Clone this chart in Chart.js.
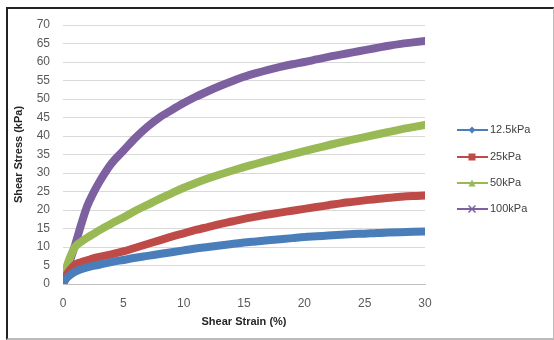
<!DOCTYPE html>
<html><head><meta charset="utf-8">
<script src="https://cdn.jsdelivr.net/npm/chart.js@4"></script>
<style>
html,body{margin:0;padding:0;background:#fff;}
#wrap{position:relative;width:554px;height:340px;}
#frame{position:absolute;left:6px;top:7px;width:545px;height:329px;border-left:2px solid #222;border-top:2px solid #222;border-right:1px solid #bbb;border-bottom:2px solid #bbb;pointer-events:none;}
canvas{position:absolute;left:0;top:0;}
</style></head>
<body>
<div id="wrap"><canvas id="c" width="554" height="340"></canvas><div id="frame"></div></div>
<script>
const strain = [0,0.25,0.5,1,1.5,2,2.5,3,4,5,6,7,8,9,10,11,12,13,14,15,16,17,18,19,20,21,22,23,24,25,26,27,28,29,30];
const s12_5 = [0,1.4,2.2,3.3,4,4.5,4.9,5.2,5.9,6.5,7.1,7.6,8.1,8.6,9.1,9.6,10,10.4,10.8,11.2,11.5,11.8,12.1,12.4,12.7,12.9,13.1,13.3,13.5,13.6,13.8,13.9,14,14.1,14.2];
const s25 = [0,2.2,3.5,5.2,5.9,6.4,6.9,7.3,8,8.8,9.8,10.8,11.8,12.8,13.7,14.6,15.4,16.2,16.9,17.6,18.2,18.8,19.3,19.8,20.3,20.8,21.3,21.8,22.2,22.6,23,23.3,23.6,23.8,23.9];
const s50 = [0,4,6.5,10,11.4,12.5,13.5,14.5,16.3,18,19.8,21.4,23,24.5,26,27.3,28.5,29.6,30.6,31.6,32.5,33.4,34.3,35.1,35.9,36.7,37.5,38.3,39,39.7,40.4,41.1,41.8,42.4,43];
const s100 = [0,3,5.5,10.5,16,21,24.5,27.5,32.5,36,39.5,42.5,45,47,48.9,50.6,52.1,53.5,54.8,56,57,57.9,58.7,59.4,60,60.7,61.4,62,62.6,63.2,63.8,64.4,64.9,65.3,65.7];
const seriesNames = ['12.5kPa','25kPa','50kPa','100kPa'];
const xTicks = [0,5,10,15,20,25,30];
const yTicks = [0,5,10,15,20,25,30,35,40,45,50,55,60,65,70];

const colors = ['#4a7ebb','#be4b48','#98b954','#7d60a0'];
const styles = ['rectRot','rect','triangle','crossRot'];
const all = [s12_5,s25,s50,s100];

const datasets = all.map((arr,i)=>({
  label: seriesNames[i],
  data: strain.map((x,j)=>({x:x,y:arr[j]})),
  borderColor: colors[i],
  backgroundColor: colors[i],
  borderWidth: 8,
  pointRadius: 0,
  pointStyle: styles[i],
  cubicInterpolationMode: 'monotone',
  borderCapStyle: 'round',
  borderJoinStyle: 'round'
}));

const legendPlugin = {
  id:'customLegend',
  afterDraw(chart){
    const ctx = chart.ctx;
    const ys = [130,157,183,209];
    chart.data.datasets.forEach((ds,i)=>{
      const y = ys[i];
      ctx.save();
      ctx.strokeStyle = ds.borderColor;
      ctx.lineWidth = 2;
      ctx.beginPath(); ctx.moveTo(457,y); ctx.lineTo(488,y); ctx.stroke();
      ctx.fillStyle = ds.borderColor;
      ctx.translate(472,y);
      const r=3.5;
      ctx.beginPath();
      if(ds.pointStyle==='rectRot'){ctx.moveTo(0,-r);ctx.lineTo(r,0);ctx.lineTo(0,r);ctx.lineTo(-r,0);ctx.closePath();ctx.fill();}
      else if(ds.pointStyle==='rect'){ctx.rect(-r,-r,2*r,2*r);ctx.fill();}
      else if(ds.pointStyle==='triangle'){ctx.moveTo(0,-r);ctx.lineTo(r,r);ctx.lineTo(-r,r);ctx.closePath();ctx.fill();}
      else {ctx.lineWidth=1.5;ctx.moveTo(-r,-r);ctx.lineTo(r,r);ctx.moveTo(r,-r);ctx.lineTo(-r,r);ctx.stroke();}
      ctx.restore();
      ctx.save();
      ctx.fillStyle='#404040';
      ctx.font='11px "Liberation Sans", Arial, sans-serif';
      ctx.textBaseline='middle';
      ctx.fillText(ds.label,490,y);
      ctx.restore();
    });
  }
};

new Chart(document.getElementById('c'),{
  type:'line',
  data:{datasets},
  plugins:[legendPlugin],
  options:{
    responsive:false,
    animation:false,
    layout:{padding:{left:0,right:129,top:25,bottom:0}},
    plugins:{legend:{display:false},tooltip:{enabled:false}},
    scales:{
      x:{
        type:'linear',min:0,max:30,
        afterBuildTicks(s){s.ticks = xTicks.map(v=>({value:v}));},
        afterFit(s){s.height=56;},
        grid:{display:false,drawTicks:false},
        border:{display:true,color:'#bfbfbf',width:1},
        ticks:{color:'#595959',font:{family:'"Liberation Sans", Arial, sans-serif',size:12},padding:12},
        title:{display:true,text:'Shear Strain (%)',color:'#262626',font:{family:'"Liberation Sans", Arial, sans-serif',size:11,weight:'bold'},padding:{top:0,bottom:11}}
      },
      y:{
        min:0,max:70,
        afterBuildTicks(s){s.ticks = yTicks.map(v=>({value:v}));},
        afterFit(s){s.width=63;},
        grid:{color:'#d9d9d9',drawTicks:false},
        border:{display:false},
        ticks:{color:'#595959',font:{family:'"Liberation Sans", Arial, sans-serif',size:12},padding:13},
        title:{display:true,text:'Shear Stress (kPa)',color:'#262626',font:{family:'"Liberation Sans", Arial, sans-serif',size:11,weight:'bold'},padding:{top:12,bottom:0}}
      }
    }
  }
});
</script>
</body></html>
